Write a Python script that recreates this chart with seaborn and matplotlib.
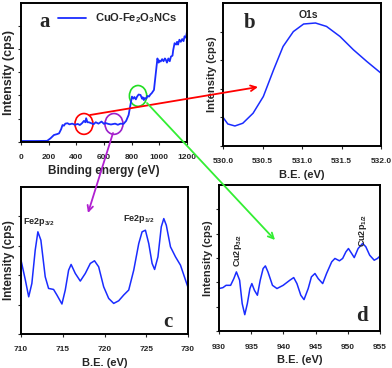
import matplotlib
matplotlib.use("Agg")
import matplotlib.pyplot as plt
import seaborn as sns
from matplotlib.patches import Ellipse
from matplotlib.text import Annotation

# Survey spectrum (panel a)
survey_be = [0, 100, 189, 213, 238, 262, 275, 290, 300, 310, 320, 336, 350, 370,
             390, 410, 425, 440, 455, 465, 471, 480, 490, 508, 525, 540, 560,
             582, 600, 610, 631, 650, 680, 700, 720, 741, 760, 778, 790, 802,
             812, 820, 830, 839, 850, 864, 875, 880, 888, 895, 905, 915, 925,
             935, 945, 961, 975, 986, 995, 1000, 1010, 1020, 1030, 1040, 1047,
             1055, 1065, 1075, 1084, 1095, 1100, 1110, 1121, 1128, 1135, 1145,
             1155, 1165, 1175, 1182, 1192, 1200]
survey_int = [0.005, 0.005, 0.006, 0.024, 0.048, 0.055, 0.06, 0.09, 0.12, 0.115,
              0.13, 0.133, 0.125, 0.13, 0.122, 0.128, 0.12, 0.132, 0.15, 0.14,
              0.169, 0.14, 0.14, 0.133, 0.126, 0.14, 0.13, 0.145, 0.128, 0.135,
              0.128, 0.124, 0.13, 0.122, 0.13, 0.128, 0.15, 0.193, 0.26, 0.325,
              0.31, 0.322, 0.305, 0.325, 0.34, 0.337, 0.31, 0.32, 0.30, 0.315,
              0.31, 0.33, 0.325, 0.34, 0.35, 0.373, 0.50, 0.60, 0.57, 0.585,
              0.578, 0.595, 0.58, 0.60, 0.59, 0.57, 0.60, 0.58, 0.614, 0.62,
              0.66, 0.71, 0.70, 0.72, 0.70, 0.735, 0.72, 0.74, 0.725, 0.76,
              0.75, 0.795]

# O1s (panel b)
o1s_be = [530.0, 530.06, 530.15, 530.25, 530.38, 530.51, 530.64, 530.76, 530.89,
          531.02, 531.17, 531.31, 531.48, 531.65, 531.82, 532.0]
o1s_int = [0.20, 0.154, 0.14, 0.159, 0.229, 0.346, 0.533, 0.696, 0.80, 0.853,
           0.86, 0.836, 0.766, 0.673, 0.591, 0.509]

# Fe2p (panel c)
fe_be = [710, 710.52, 710.92, 711.3, 711.7, 712.02, 712.38, 712.9, 713.3, 713.9,
         714.3, 714.9, 715.3, 715.7, 716.0, 716.5, 717.1, 717.7, 718.3, 718.8,
         719.3, 719.9, 720.5, 721.1, 721.7, 722.3, 722.9, 723.5, 724.1, 724.5,
         724.9, 725.3, 725.7, 726.0, 726.4, 726.8, 727.1, 727.4, 727.9, 728.5,
         729.1, 729.7, 730.0]
fe_int = [0.502, 0.367, 0.253, 0.344, 0.57, 0.695, 0.638, 0.389, 0.31, 0.303,
          0.265, 0.204, 0.299, 0.434, 0.473, 0.412, 0.36, 0.412, 0.48, 0.498,
          0.457, 0.321, 0.242, 0.208, 0.226, 0.265, 0.299, 0.434, 0.615, 0.695,
          0.706, 0.615, 0.48, 0.439, 0.525, 0.729, 0.785, 0.74, 0.593, 0.525,
          0.468, 0.367, 0.317]

# Cu2p (panel d)
cu_be = [930, 930.6, 931.1, 931.8, 932.3, 932.7, 933.2, 933.6, 934.0, 934.4,
         934.8, 935.1, 935.5, 935.96, 936.4, 936.85, 937.2, 937.6, 938.3, 939.0,
         939.96, 941.0, 941.6, 942.1, 942.7, 943.2, 943.85, 944.35, 944.9, 945.4,
         946.1, 946.7, 947.5, 948.0, 948.7, 949.2, 949.7, 950.1, 950.6, 951.0,
         951.6, 952.3, 952.8, 953.4, 954.1, 954.6, 955.0]
cu_int = [0.291, 0.297, 0.313, 0.313, 0.359, 0.405, 0.348, 0.188, 0.112, 0.188,
          0.291, 0.325, 0.279, 0.245, 0.348, 0.428, 0.446, 0.405, 0.313, 0.291,
          0.313, 0.348, 0.366, 0.325, 0.245, 0.215, 0.291, 0.371, 0.394, 0.359,
          0.325, 0.394, 0.474, 0.497, 0.481, 0.497, 0.542, 0.565, 0.531, 0.503,
          0.565, 0.60, 0.577, 0.519, 0.485, 0.497, 0.513]

BLUE = "#1a2cff"

sns.set_style("ticks")
plt.rcParams["font.family"] = ["Liberation Sans", "DejaVu Sans"]
plt.rcParams["font.weight"] = "bold"
plt.rcParams["mathtext.fontset"] = "custom"
plt.rcParams["mathtext.bf"] = "Liberation Sans:bold"
plt.rcParams["mathtext.rm"] = "Liberation Sans:bold"

fig = plt.figure(figsize=(3.92, 3.68), dpi=100)
ax_a = fig.add_axes([0.0536, 0.615, 0.4235, 0.3769])
ax_b = fig.add_axes([0.569, 0.6033, 0.403, 0.3886])
ax_c = fig.add_axes([0.0536, 0.0924, 0.426, 0.3995])
ax_d = fig.add_axes([0.5587, 0.1005, 0.4107, 0.3967])


def style_axis(ax, xlim, xticks, xlabel, nticks, fmt=None, ysize=8):
    ax.set_xlim(*xlim)
    ax.set_ylim(0, 1)
    ax.set_xticks(xticks)
    if fmt:
        ax.set_xticklabels([fmt.format(t) for t in xticks])
    ax.set_yticks([k / nticks for k in range(nticks)])
    ax.set_yticklabels([])
    ax.set_xlabel(xlabel, fontsize=8, fontweight="bold", labelpad=3)
    ax.set_ylabel("Intensity (cps)", fontsize=ysize, fontweight="bold", labelpad=1)
    ax.tick_params(axis="both", length=2, width=0.8, labelsize=6)
    ax.tick_params(axis="x", pad=7)
    ax.tick_params(axis="y", pad=1)
    for s in ax.spines.values():
        s.set_visible(True)
        s.set_linewidth(1.4)
        s.set_color("black")


sns.lineplot(x=survey_be, y=survey_int, ax=ax_a, color=BLUE, lw=1.3,
             label=r"CuO-Fe$_\mathbf{2}$O$_\mathbf{3}$NCs", sort=False)
style_axis(ax_a, (0, 1200), [0, 200, 400, 600, 800, 1000, 1200], "Binding energy (eV)", 6,
           ysize=9)
ax_a.xaxis.label.set_size(8.5)
ax_a.legend(loc="upper left", bbox_to_anchor=(0.16, 1.01), frameon=False,
            handlelength=2.6, prop={"size": 8, "weight": "bold"})
ax_a.text(0.14, 0.86, "a", transform=ax_a.transAxes, fontsize=15, fontweight="bold",
          family="Liberation Serif", ha="center", va="center")
for cx, cy, w, h, col in [(455, 0.128, 130, 0.15, "red"), (672, 0.128, 130, 0.15, "#9b1fc9"),
                          (846, 0.33, 125, 0.15, "#22dd22")]:
    ax_a.add_patch(Ellipse((cx, cy), w, h, fill=False, ec=col, lw=1.2))

sns.lineplot(x=o1s_be, y=o1s_int, ax=ax_b, color=BLUE, lw=1.1, sort=False)
style_axis(ax_b, (530, 532), [530.0, 530.5, 531.0, 531.5, 532.0], "B.E. (eV)", 5, "{:.1f}")
ax_b.text(531.08, 0.915, "O1s", fontsize=7.5, fontweight="bold", ha="center", va="center")
ax_b.text(0.17, 0.86, "b", transform=ax_b.transAxes, fontsize=15, fontweight="bold",
          family="Liberation Serif", ha="center", va="center")

sns.lineplot(x=fe_be, y=fe_int, ax=ax_c, color=BLUE, lw=1.1, sort=False)
style_axis(ax_c, (710, 730), [710, 715, 720, 725, 730], "B.E. (eV)", 5, ysize=8.5)
ax_c.text(712.1, 0.76, r"Fe2p$_\mathbf{3/2}$", fontsize=6.5, ha="center", va="center")
ax_c.text(724.1, 0.78, r"Fe2p$_\mathbf{1/2}$", fontsize=6.5, ha="center", va="center")
ax_c.text(0.88, 0.08, "c", transform=ax_c.transAxes, fontsize=15, fontweight="bold",
          family="Liberation Serif", ha="center", va="center")

sns.lineplot(x=cu_be, y=cu_int, ax=ax_d, color=BLUE, lw=1.1, sort=False)
style_axis(ax_d, (930, 955), [930, 935, 940, 945, 950, 955], "B.E. (eV)", 6)
ax_d.text(933.0, 0.55, r"Cu2p$_\mathbf{3/2}$", fontsize=6.5, rotation=90, ha="center", va="center")
ax_d.text(952.3, 0.69, r"Cu2p$_\mathbf{1/2}$", fontsize=6.5, rotation=90, ha="center", va="center")
ax_d.text(0.89, 0.1, "d", transform=ax_d.transAxes, fontsize=15, fontweight="bold",
          family="Liberation Serif", ha="center", va="center")

# connector arrows between the survey and the detail panels
for start, end, col in [((90, 253), (258, 281), "red"), ((113, 235), (88, 155), "#b020d0"),
                        ((147, 265), (275, 128), "#33ee33")]:
    fig.add_artist(Annotation("", xy=end, xytext=start, xycoords="figure pixels",
                              textcoords="figure pixels",
                              arrowprops=dict(arrowstyle="->", color=col, lw=1.3,
                                              shrinkA=0, shrinkB=0)))

fig.savefig("out.png", dpi=100)
